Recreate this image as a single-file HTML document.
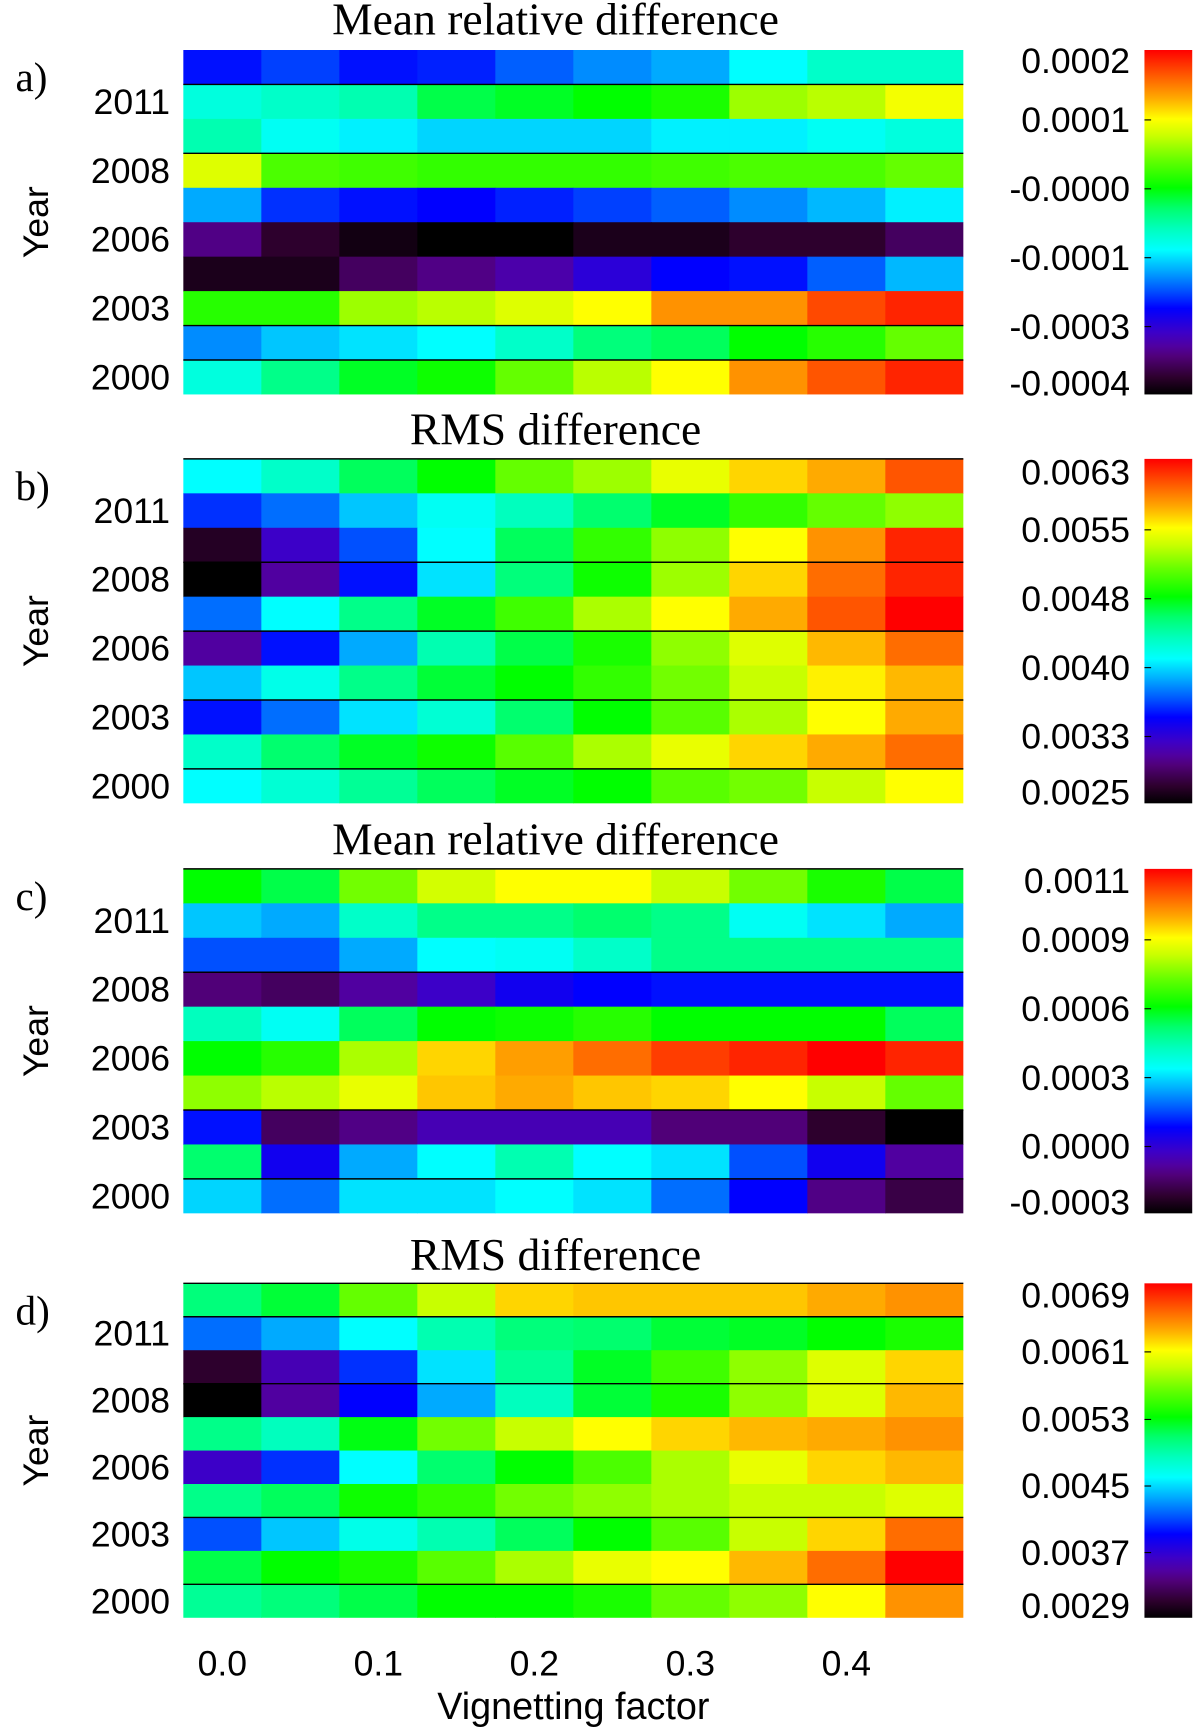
<!DOCTYPE html>
<html><head><meta charset="utf-8">
<style>
html,body{margin:0;padding:0;background:#fff;}
svg{display:block;}
.ser{font-family:"Liberation Serif",serif;}
.san{font-family:"Liberation Sans",sans-serif;}
</style></head>
<body>
<svg id="fig" width="1200" height="1735" viewBox="0 0 1080 1561.5" preserveAspectRatio="none" xmlns="http://www.w3.org/2000/svg"></svg>
<script>
// Cell values as fraction of each panel's colorbar range (0 = bottom, 1 = top); rows top -> bottom
const xTickLabels = ["0.0","0.1","0.2","0.3","0.4"];
const yearLabels = ["2011","2008","2006","2003","2000"];
const panelTitles = ["Mean relative difference","RMS difference","Mean relative difference","RMS difference"];
const panelLetters = ["a)","b)","c)","d)"];
const cbarA = ["0.0002","0.0001","-0.0000","-0.0001","-0.0003","-0.0004"];
const cbarB = ["0.0063","0.0055","0.0048","0.0040","0.0033","0.0025"];
const cbarC = ["0.0011","0.0009","0.0006","0.0003","0.0000","-0.0003"];
const cbarD = ["0.0069","0.0061","0.0053","0.0045","0.0037","0.0029"];
const cbarFracA = [0.968,0.797,0.597,0.397,0.197,0.032];
const cbarFracB = [0.961,0.794,0.594,0.394,0.194,0.032];
const cbarFracC = [0.965,0.794,0.594,0.394,0.194,0.032];
const cbarFracD = [0.964,0.795,0.593,0.394,0.195,0.036];
const sepA = [1,3,8,9];
const sepB = [0,3,5,7,9];
const sepC = [0,3,7,9];
const sepD = [0,1,3,7,9];
const valuesA = [
[.26,.29,.26,.27,.31,.34,.36,.42,.47,.47],
[.45,.47,.49,.56,.58,.60,.62,.72,.74,.79],
[.49,.43,.41,.39,.39,.39,.41,.41,.43,.45],
[.77,.66,.65,.64,.64,.64,.65,.66,.66,.68],
[.36,.28,.26,.25,.27,.29,.31,.34,.37,.41],
[.12,.05,.02,0,0,.03,.03,.05,.05,.09],
[.03,.03,.09,.12,.15,.20,.25,.26,.31,.37],
[.63,.63,.72,.74,.77,.80,.88,.88,.94,.97],
[.34,.38,.40,.42,.47,.53,.55,.60,.63,.68],
[.45,.52,.58,.61,.68,.74,.80,.88,.93,.97]];
const valuesB = [
[.42,.47,.55,.60,.68,.72,.78,.83,.86,.93],
[.28,.32,.38,.43,.48,.54,.58,.64,.68,.71],
[.04,.18,.30,.42,.55,.64,.71,.80,.88,.97],
[0,.14,.26,.40,.53,.61,.72,.83,.91,.97],
[.32,.42,.52,.58,.65,.73,.80,.86,.93,1],
[.14,.26,.36,.49,.56,.62,.71,.77,.85,.91],
[.38,.44,.52,.57,.60,.64,.69,.75,.81,.85],
[.26,.32,.40,.46,.54,.60,.67,.73,.80,.86],
[.47,.54,.58,.61,.67,.73,.78,.83,.86,.91],
[.42,.46,.51,.55,.58,.60,.67,.69,.75,.80]];
const valuesC = [
[.60,.56,.69,.76,.80,.80,.75,.69,.62,.56],
[.38,.36,.47,.52,.52,.54,.52,.43,.40,.36],
[.30,.30,.36,.42,.43,.47,.52,.52,.52,.52],
[.11,.09,.14,.18,.23,.25,.26,.26,.26,.26],
[.48,.43,.55,.60,.61,.63,.60,.60,.60,.55],
[.60,.63,.73,.83,.87,.91,.95,.97,1,.97],
[.71,.74,.78,.84,.86,.84,.83,.80,.75,.68],
[.26,.09,.12,.16,.16,.16,.11,.11,.05,0],
[.54,.23,.36,.42,.49,.42,.40,.30,.23,.14],
[.39,.32,.40,.40,.42,.40,.32,.25,.12,.07]];
const valuesD = [
[.53,.57,.68,.75,.83,.84,.84,.84,.86,.88],
[.32,.36,.42,.49,.53,.54,.57,.58,.60,.62],
[.05,.16,.28,.40,.51,.58,.65,.71,.77,.83],
[0,.14,.25,.36,.48,.57,.62,.71,.77,.85],
[.52,.48,.59,.69,.75,.80,.83,.85,.86,.88],
[.18,.28,.42,.54,.60,.66,.73,.78,.83,.85],
[.52,.55,.61,.64,.69,.71,.73,.75,.75,.77],
[.30,.38,.44,.49,.55,.60,.67,.75,.83,.91],
[.56,.60,.62,.67,.73,.78,.80,.85,.91,1],
[.51,.53,.56,.60,.60,.62,.68,.71,.80,.88]];

const stops=[[0,0,0,0],[.05,45,0,45],[.11,80,0,120],[.14,80,0,160],[.18,60,0,200],[.25,0,0,255],[.3,0,80,255],[.36,0,170,255],[.42,0,255,255],[.48,0,255,190],[.54,0,255,110],[.6,0,255,0],[.68,100,255,0],[.75,200,255,0],[.8,255,255,0],[.86,255,170,0],[.93,255,85,0],[1,255,0,0]];
function cmap(t){t=Math.max(0,Math.min(1,t));for(let i=1;i<stops.length;i++){if(t<=stops[i][0]){const a=stops[i-1],b=stops[i],f=(t-a[0])/(b[0]-a[0]);return `rgb(${Math.round(a[1]+f*(b[1]-a[1]))},${Math.round(a[2]+f*(b[2]-a[2]))},${Math.round(a[3]+f*(b[3]-a[3]))})`;}}return 'rgb(255,0,0)';}

const NS="http://www.w3.org/2000/svg";
const svg=document.getElementById('fig');
function mk(tag,attrs,parent){const e=document.createElementNS(NS,tag);for(const k in attrs)e.setAttribute(k,attrs[k]);(parent||svg).appendChild(e);return e;}

const defs=mk('defs',{});
const grad=mk('linearGradient',{id:'cg',x1:0,y1:1,x2:0,y2:0},defs);
stops.forEach(s=>mk('stop',{offset:s[0],'stop-color':`rgb(${s[1]},${s[2]},${s[3]})`},grad));

const X0=165,X1=867,NC=10,NR=10;
const panels=[
 {top:45,bot:355,vals:valuesA,sep:sepA,cb:cbarA,cf:cbarFracA,titleY:31},
 {top:413,bot:723,vals:valuesB,sep:sepB,cb:cbarB,cf:cbarFracB,titleY:400},
 {top:782,bot:1092,vals:valuesC,sep:sepC,cb:cbarC,cf:cbarFracC,titleY:769},
 {top:1155,bot:1456,vals:valuesD,sep:sepD,cb:cbarD,cf:cbarFracD,titleY:1143}];
const letterKeys=['a','b','c','d'];
function xScale(c){return X0+(X1-X0)*c/NC;}

panels.forEach((p,pi)=>{
 const key=letterKeys[pi];
 const rh=(p.bot-p.top)/NR;
 const yScale=r=>p.top+rh*r;
 const g=mk('g',{});
 
 
 p.vals.forEach((row,r)=>row.forEach((v,c)=>{
  const x0=xScale(c),x1=xScale(c+1);
  const el=mk('rect',{x:x0,y:yScale(r),width:x1-x0+(c<NC-1?0.5:0),height:rh+(r<NR-1?0.5:0),fill:cmap(v)},g);
  
  
 }));
 p.sep.forEach(s=>{
  const l=mk('line',{x1:X0,x2:X1,y1:yScale(s),y2:yScale(s),stroke:'#000','stroke-width':1.3},g);
  
  
 });
 const t=mk('text',{x:500,y:p.titleY,'text-anchor':'middle','font-size':41,class:'ser'});
 t.textContent=panelTitles[pi];
 
 
 const lt=mk('text',{x:14,y:p.top+37,'font-size':37,class:'ser'});
 lt.textContent=panelLetters[pi];
 
 
 yearLabels.forEach((y,i)=>{
  const r=1+2*i;
  const yt=mk('text',{x:153,y:yScale(r)+rh/2+11,'text-anchor':'end','font-size':32,class:'san'});
  yt.textContent=y;
  
  
 });
 const cy=(p.top+p.bot)/2;
 const ya=mk('text',{x:0,y:0,transform:`translate(43,${cy}) rotate(-90)`,'text-anchor':'middle','font-size':32,class:'san'});
 ya.textContent='Year';
 
 
 const cb=mk('rect',{x:1030,y:p.top,width:43,height:p.bot-p.top,fill:'url(#cg)'});
 
 
 p.cb.forEach((lab,i)=>{
  const yy=p.bot-(p.bot-p.top)*p.cf[i];
  const tx=mk('text',{x:1017,y:yy+11,'text-anchor':'end','font-size':32,class:'san'});
  tx.textContent=lab;
  
  
  if(i>0&&i<p.cb.length-1){
   const tk=mk('line',{x1:1030,x2:1036,y1:yy,y2:yy,stroke:'#000','stroke-width':1});
   
   
  }
 });
});
xTickLabels.forEach((lab,i)=>{
 const t=mk('text',{x:xScale(0.5+2*i),y:1508,'text-anchor':'middle','font-size':32,class:'san'});
 t.textContent=lab;
 
 
});
const xt=mk('text',{x:516,y:1547,'text-anchor':'middle','font-size':34,class:'san'});
xt.textContent='Vignetting factor';


</script>
</body></html>
